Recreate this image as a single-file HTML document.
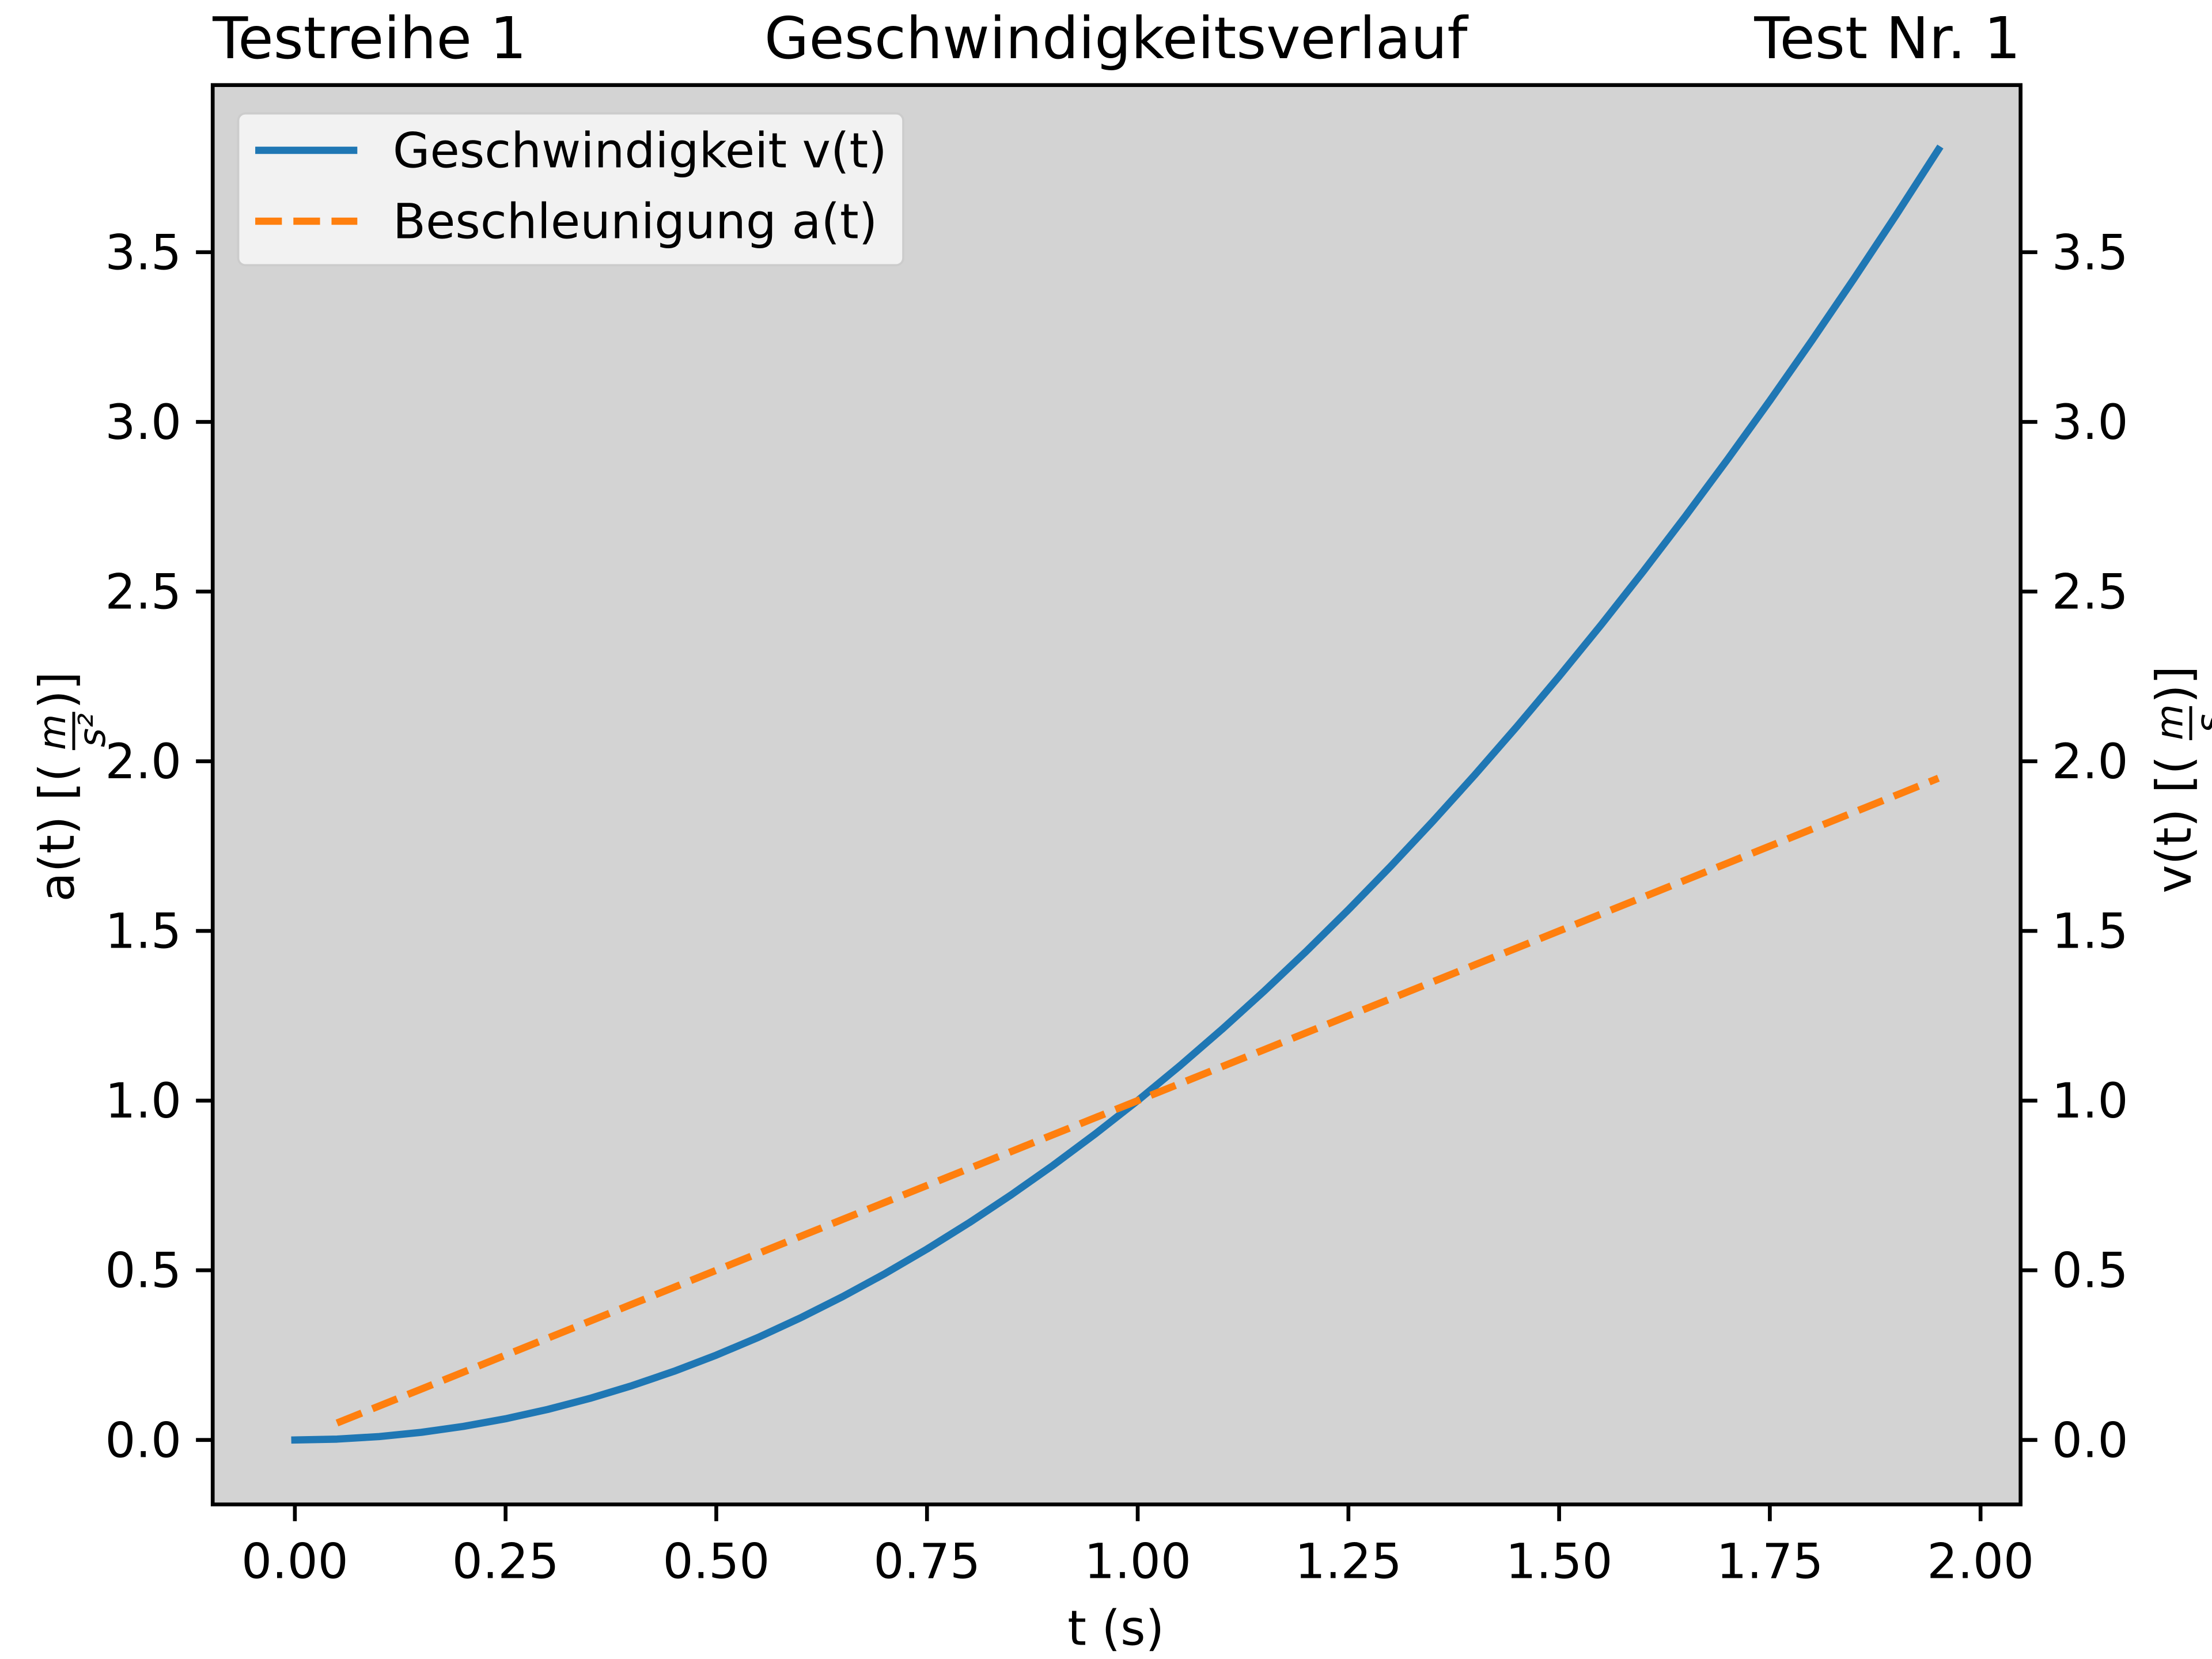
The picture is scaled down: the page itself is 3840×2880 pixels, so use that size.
<!DOCTYPE html>
<html><head><meta charset="utf-8"><style>
html,body{margin:0;padding:0;background:#fff;}
svg{display:block;font-family:"DejaVu Sans","Liberation Sans",sans-serif;}
</style></head><body>
<svg id="chart" width="3840" height="2880" viewBox="0 0 1560 1170" xmlns="http://www.w3.org/2000/svg">
<rect x="0" y="0" width="1560" height="1170" fill="#fff"/>
<rect x="150" y="60" width="1275" height="1001" fill="#d3d3d3"/>
<g id="grid"></g>
<g id="series"></g>
<rect x="150" y="60" width="1275" height="1001" fill="none" stroke="#000" stroke-width="2.7"/>
<g id="ticks"></g>
<text x="150" y="41" font-size="40.6">Testreihe 1</text>
<text x="787" y="41" font-size="40.6" text-anchor="middle">Geschwindigkeitsverlauf</text>
<text x="1425" y="41" font-size="40.6" text-anchor="end">Test Nr. 1</text>
<text x="787" y="1160" font-size="33.9" text-anchor="middle">t (s)</text>
<g transform="translate(52,560) rotate(-90)">
  <text x="-76" y="0" font-size="33.9">a(t) [(</text>
  <text x="31" y="-6" font-size="26" font-style="italic">m</text>
  <line x1="31" y1="0" x2="58" y2="0" stroke="#000" stroke-width="2"/>
  <text x="33" y="22" font-size="26" font-style="italic">s²</text>
  <text x="60" y="0" font-size="33.9">)]</text>
</g>
<g transform="translate(1545,560) rotate(-90)">
  <text x="-70" y="0" font-size="33.9">v(t) [(</text>
  <text x="38" y="-6" font-size="26" font-style="italic">m</text>
  <line x1="38" y1="0" x2="62" y2="0" stroke="#000" stroke-width="2"/>
  <text x="43" y="22" font-size="26" font-style="italic">s</text>
  <text x="64" y="0" font-size="33.9">)]</text>
</g>
<g>
  <rect x="168" y="80" width="469" height="107" rx="5" fill="#f5f5f5" fill-opacity="0.9" stroke="#cccccc" stroke-width="1.5"/>
  <line x1="180" y1="106" x2="252" y2="106" stroke="#1f77b4" stroke-width="5.1"/>
  <text x="277" y="118" font-size="33.9">Geschwindigkeit v(t)</text>
  <line x1="180" y1="156" x2="252" y2="156" stroke="#ff7f0e" stroke-width="5.1" stroke-dasharray="18.8 8.1"/>
  <text x="277" y="168" font-size="33.9">Beschleunigung a(t)</text>
</g>
</svg>
<script>
const timeV = [0,0.05,0.1,0.15,0.2,0.25,0.3,0.35,0.4,0.45,0.5,0.55,0.6,0.65,0.7,0.75,0.8,0.85,0.9,0.95,1.0,1.05,1.1,1.15,1.2,1.25,1.3,1.35,1.4,1.45,1.5,1.55,1.6,1.65,1.7,1.75,1.8,1.85,1.9,1.95];
const velocity = [0,0.0025,0.01,0.0225,0.04,0.0625,0.09,0.1225,0.16,0.2025,0.25,0.3025,0.36,0.4225,0.49,0.5625,0.64,0.7225,0.81,0.9025,1.0,1.1025,1.21,1.3225,1.44,1.5625,1.69,1.8225,1.96,2.1025,2.25,2.4025,2.56,2.7225,2.89,3.0625,3.24,3.4225,3.61,3.8025];
const timeA = [0.05,0.1,0.15,0.2,0.25,0.3,0.35,0.4,0.45,0.5,0.55,0.6,0.65,0.7,0.75,0.8,0.85,0.9,0.95,1.0,1.05,1.1,1.15,1.2,1.25,1.3,1.35,1.4,1.45,1.5,1.55,1.6,1.65,1.7,1.75,1.8,1.85,1.9,1.95];
const acceleration = [0.05,0.1,0.15,0.2,0.25,0.3,0.35,0.4,0.45,0.5,0.55,0.6,0.65,0.7,0.75,0.8,0.85,0.9,0.95,1.0,1.05,1.1,1.15,1.2,1.25,1.3,1.35,1.4,1.45,1.5,1.55,1.6,1.65,1.7,1.75,1.8,1.85,1.9,1.95];
const xTicks = [0,0.25,0.5,0.75,1.0,1.25,1.5,1.75,2.0];
const xTickLabels = ["0.00","0.25","0.50","0.75","1.00","1.25","1.50","1.75","2.00"];
const yTicks = [0,0.5,1.0,1.5,2.0,2.5,3.0,3.5];
const yTickLabels = ["0.0","0.5","1.0","1.5","2.0","2.5","3.0","3.5"];

const NS = "http://www.w3.org/2000/svg";
const L=150,R=1425,T=60,B=1061;
const xMin=-0.0975,xMax=2.0475,yMin=-0.19,yMax=3.9925;
function sx(v){return L+(v-xMin)/(xMax-xMin)*(R-L);}
function sy(v){return B-(v-yMin)/(yMax-yMin)*(B-T);}
function mk(tag,attrs,parent){const e=document.createElementNS(NS,tag);for(const k in attrs)e.setAttribute(k,attrs[k]);parent.appendChild(e);return e;}

const ser=document.getElementById('series');
let d=timeV.map((t,i)=>(i?'L':'M')+sx(t).toFixed(2)+' '+sy(velocity[i]).toFixed(2)).join(' ');
const pv=mk('path',{d:d,fill:'none',stroke:'#1f77b4','stroke-width':5.1,'stroke-linecap':'square','stroke-linejoin':'round'},ser);


d=timeA.map((t,i)=>(i?'L':'M')+sx(t).toFixed(2)+' '+sy(acceleration[i]).toFixed(2)).join(' ');
const pa=mk('path',{d:d,fill:'none',stroke:'#ff7f0e','stroke-width':5.1,'stroke-dasharray':'18.8 8.1'},ser);



const tk=document.getElementById('ticks');
xTicks.forEach((v,i)=>{
  const x=sx(v);
  const ln=mk('line',{x1:x,y1:B,x2:x,y2:B+11.8,stroke:'#000','stroke-width':2.7},tk);
  
  
  const t=mk('text',{x:x,y:1113,'font-size':33.9,'text-anchor':'middle'},tk);
  t.textContent=xTickLabels[i];
  
  
});
yTicks.forEach((v,i)=>{
  const y=sy(v);
  const l1=mk('line',{x1:L-11.8,y1:y,x2:L,y2:y,stroke:'#000','stroke-width':2.7},tk);
  
  
  const l2=mk('line',{x1:R,y1:y,x2:R+11.8,y2:y,stroke:'#000','stroke-width':2.7},tk);
  
  
  const t1=mk('text',{x:128,y:y+12,'font-size':33.9,'text-anchor':'end'},tk);
  t1.textContent=yTickLabels[i];
  
  
  const t2=mk('text',{x:1447,y:y+12,'font-size':33.9,'text-anchor':'start'},tk);
  t2.textContent=yTickLabels[i];
  
  
});
</script>
</body></html>
